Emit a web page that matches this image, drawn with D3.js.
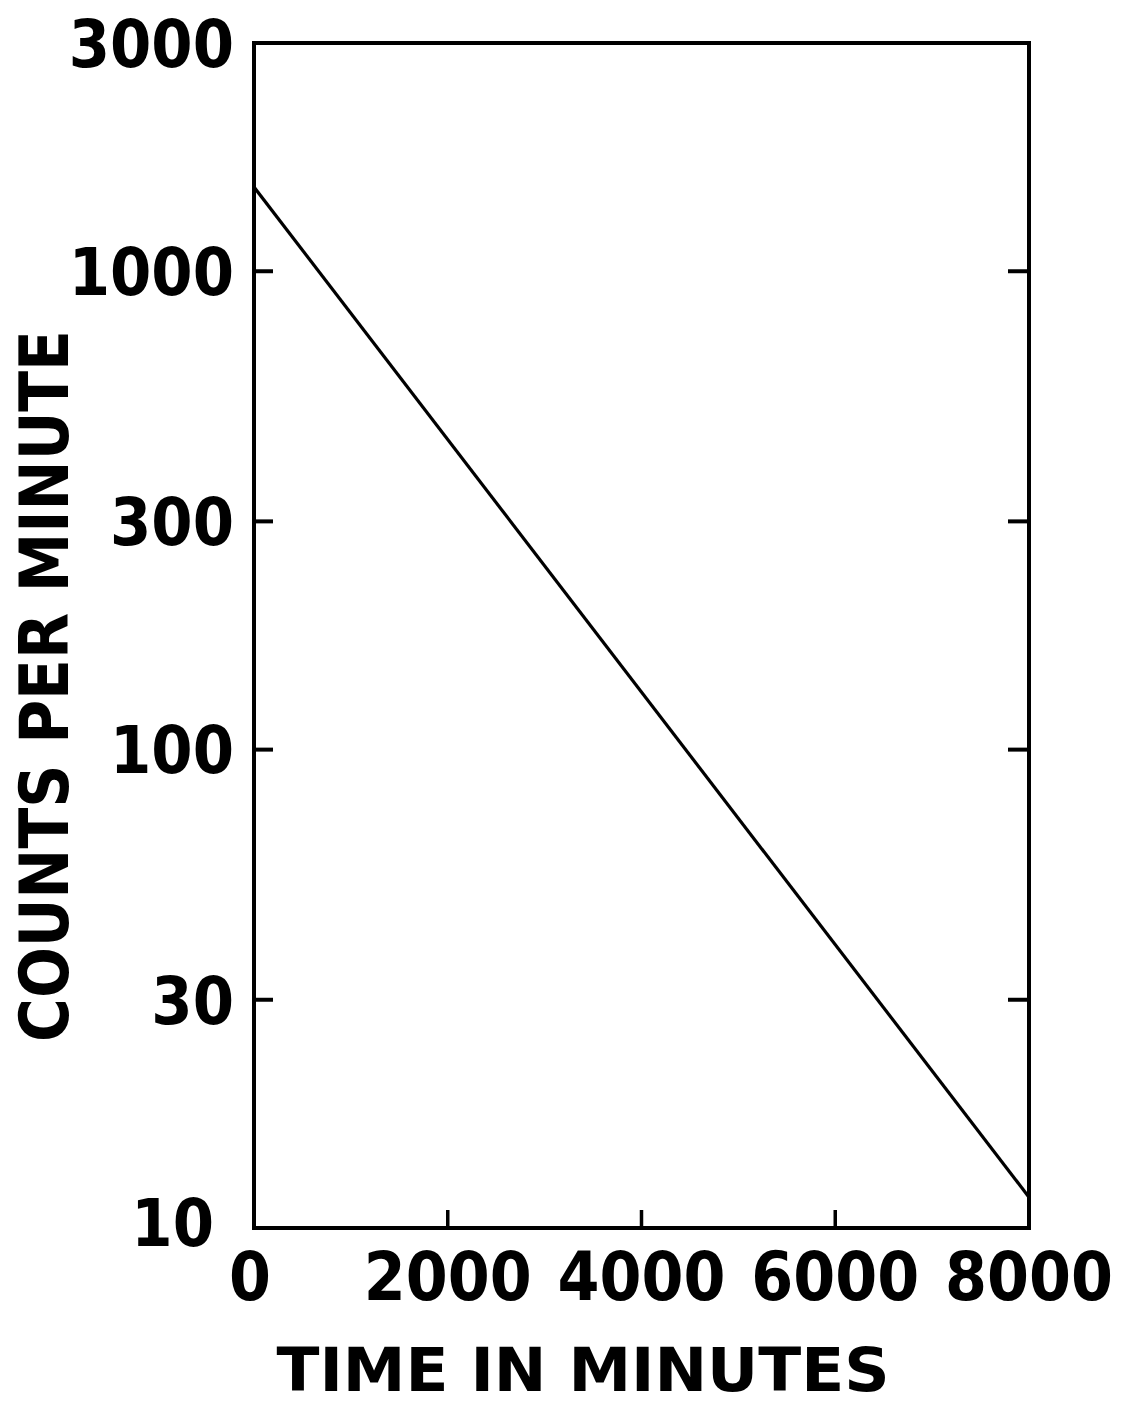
<!DOCTYPE html>
<html>
<head>
<meta charset="utf-8">
<script src="https://cdn.jsdelivr.net/npm/d3@7"></script>
<style>
  html, body { margin: 0; padding: 0; background: #fff; }
  svg text { font-family: "DejaVu Sans Condensed", "DejaVu Sans", sans-serif; font-weight: bold; fill: #000; }
</style>
</head>
<body>
<svg id="chart" width="1125" height="1404"></svg>
<script>
// ---- data ----
const timeMinutes = [0, 8000];
const countsPerMinute = [1500, 11.6];
const xTicks = [0, 2000, 4000, 6000, 8000];
const xTickLabels = ["0", "2000", "4000", "6000", "8000"];
const yTicks = [10, 30, 100, 300, 1000, 3000];
const yTickLabels = ["10", "30", "100", "300", "1000", "3000"];
const xTitle = "TIME IN MINUTES";
const yTitle = "COUNTS PER MINUTE";

// ---- layout ----
const svg = d3.select("#chart");
const plotLeft = 254, plotRight = 1029, plotTop = 43, plotBottom = 1228;

const x = d3.scaleLinear().domain([0, 8000]).range([plotLeft, plotRight]);
const y = d3.scaleLog().domain([10, 3000]).range([plotBottom, plotTop]);

// frame
svg.append("rect")
  .attr("x", plotLeft).attr("y", plotTop)
  .attr("width", plotRight - plotLeft).attr("height", plotBottom - plotTop)
  .attr("fill", "none").attr("stroke", "#000").attr("stroke-width", 4);

// inner ticks, left and right
const innerY = yTicks.filter(v => v > 10 && v < 3000);
svg.append("g").selectAll("line").data(innerY).join("line")
  .attr("x1", plotLeft).attr("x2", plotLeft + 19)
  .attr("y1", d => y(d)).attr("y2", d => y(d))
  .attr("stroke", "#000").attr("stroke-width", 4);
svg.append("g").selectAll("line").data(innerY).join("line")
  .attr("x1", plotRight).attr("x2", plotRight - 21)
  .attr("y1", d => y(d)).attr("y2", d => y(d))
  .attr("stroke", "#000").attr("stroke-width", 4);

// bottom ticks
const innerX = xTicks.filter(v => v > 0 && v < 8000);
svg.append("g").selectAll("line").data(innerX).join("line")
  .attr("x1", d => x(d)).attr("x2", d => x(d))
  .attr("y1", plotBottom).attr("y2", plotBottom - 18)
  .attr("stroke", "#000").attr("stroke-width", 3.5);

// y tick labels
svg.append("g").selectAll("text").data(yTicks).join("text")
  .attr("x", d => d === 10 ? 214 : 234)
  .attr("y", d => d === 10 ? y(d) - 6 : y(d))
  .attr("dy", "0.36em")
  .attr("text-anchor", "end")
  .attr("font-size", 66)
  .text((d, i) => yTickLabels[i]);

// x tick labels
svg.append("g").selectAll("text").data(xTicks).join("text")
  .attr("x", d => x(d) - (d === 0 ? 4 : 0))
  .attr("y", 1300)
  .attr("text-anchor", "middle")
  .attr("font-size", 67)
  .attr("textLength", d => d === 0 ? null : 168)
  .attr("lengthAdjust", "spacingAndGlyphs")
  .text((d, i) => xTickLabels[i]);

// axis titles
svg.append("text")
  .attr("x", 583).attr("y", 1391)
  .attr("text-anchor", "middle")
  .attr("font-size", 60)
  .attr("textLength", 613)
  .attr("lengthAdjust", "spacingAndGlyphs")
  .text(xTitle);

svg.append("text")
  .attr("transform", "translate(68,686) rotate(-90)")
  .attr("text-anchor", "middle")
  .attr("font-size", 68)
  .attr("textLength", 712)
  .attr("lengthAdjust", "spacingAndGlyphs")
  .text(yTitle);

// decay line
const pts = timeMinutes.map((t, i) => [t, countsPerMinute[i]]);
svg.append("path")
  .datum(pts)
  .attr("fill", "none")
  .attr("stroke", "#000")
  .attr("stroke-width", 3.2)
  .attr("d", d3.line().x(d => x(d[0])).y(d => y(d[1])));
</script>
</body>
</html>
